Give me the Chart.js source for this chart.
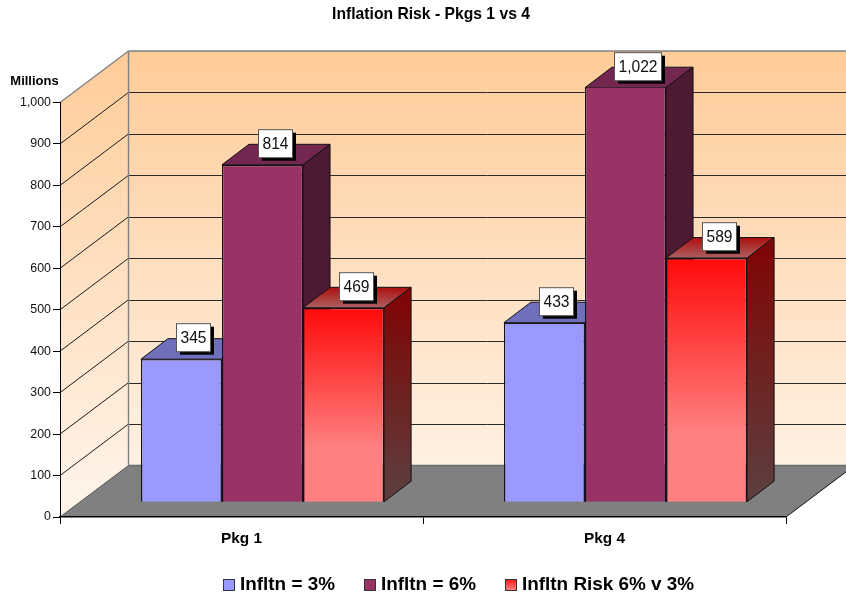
<!DOCTYPE html>
<html>
<head>
<meta charset="utf-8">
<style>
  html, body { margin: 0; padding: 0; background: #fff; overflow: hidden; }
  canvas { display: block; }
</style>
<script src="https://cdn.jsdelivr.net/npm/chart.js@4"></script>
</head>
<body>
<canvas id="chart" width="846" height="596"></canvas>
<script>
// Chart content
const categories = ['Pkg 1', 'Pkg 4'];
const inflation3 = [345, 433];
const inflation6 = [814, 1022];
const inflationRisk = [469, 589];
const seriesNames = ['Infltn = 3%', 'Infltn = 6%', 'Infltn Risk 6% v 3%'];
const chartTitle = 'Inflation Risk - Pkgs 1 vs 4';
const unitLabel = 'Millions';
const valueMax = 1000;
const valueStep = 100;

// Oblique projection used to fake the 3D box
const FONT = '"Liberation Sans", Arial, sans-serif';
const WALL = { dx: 68.5, dy: -51.5 };   // front plane to back wall
const PLANE = { dx: 21, dy: -14.8 };    // front plane to the front of the bars
const DEPTH = { dx: 27, dy: -20.5 };    // bar front to bar back

function poly(ctx, pts, fill, stroke, lw) {
  ctx.beginPath();
  pts.forEach((p, i) => i ? ctx.lineTo(p[0], p[1]) : ctx.moveTo(p[0], p[1]));
  ctx.closePath();
  if (fill) { ctx.fillStyle = fill; ctx.fill(); }
  if (stroke) { ctx.strokeStyle = stroke; ctx.lineWidth = lw || 1; ctx.stroke(); }
}

function line(ctx, x1, y1, x2, y2, color, lw) {
  ctx.beginPath();
  ctx.moveTo(x1, y1);
  ctx.lineTo(x2, y2);
  ctx.strokeStyle = color;
  ctx.lineWidth = lw;
  ctx.stroke();
}

function vGrad(ctx, y1, y2, c1, c2) {
  const g = ctx.createLinearGradient(0, y1, 0, y2);
  g.addColorStop(0, c1);
  g.addColorStop(1, c2);
  return g;
}

// Front of the red series: saturated at the top, fading to a flat pink
function redFront(ctx, y1, y2) {
  const g = ctx.createLinearGradient(0, y1, 0, y2);
  g.addColorStop(0, '#FF0A0A');
  g.addColorStop(0.72, '#FF8080');
  g.addColorStop(1, '#FF8080');
  return g;
}

// Per-series face colours: side and top faces of each bar
const faces = [
  { top: () => '#6F6FBB', side: () => '#4D4D80' },
  { top: () => '#722650', side: () => '#4D1933' },
  {
    top: (ctx, y1, y2) => vGrad(ctx, y1, y2, '#AE0F0F', '#AC6060'),
    side: (ctx, y1, y2) => vGrad(ctx, y1, y2, '#7E0808', '#5C4040')
  }
];

const box3d = {
  id: 'box3d',
  // Back wall, side wall, floor and the grid running across them
  beforeDraw(chart) {
    const { ctx, chartArea: a, scales: { y } } = chart;
    const L = a.left, R = a.right, T = a.top, B = a.bottom;
    const dx = WALL.dx, dy = WALL.dy;
    ctx.save();
    const wall = vGrad(ctx, T + dy, B + dy + 15, '#FFCC99', '#FFF2E6');
    poly(ctx, [[L, B], [L + dx, B + dy], [L + dx, T + dy], [L, T]], wall);
    ctx.fillStyle = wall;
    ctx.fillRect(L + dx, T + dy, chart.width - L - dx, B - T);
    poly(ctx, [[L, B], [L + dx, B + dy], [R + dx, B + dy], [R, B]], '#808080');

    y.ticks.forEach(t => {
      if (t.value === 0 || t.value === valueMax) return;
      const p = y.getPixelForValue(t.value);
      line(ctx, L, p, L + dx, p + dy, '#1a1a1a', 1);
      line(ctx, L + dx, Math.round(p + dy) + 0.5, chart.width, Math.round(p + dy) + 0.5, '#2a2a2a', 1);
    });
    line(ctx, L, T, L + dx, T + dy, '#808080', 1.4);
    line(ctx, L + dx, T + dy, chart.width, T + dy, '#808080', 1.4);
    line(ctx, L + dx, T + dy, L + dx, B + dy, '#808080', 1.4);
    line(ctx, L + dx, B + dy, chart.width, B + dy, '#6a6a6a', 1.6);
    line(ctx, L, B, L + dx, B + dy, '#555', 1);
    line(ctx, R, B, R + dx, B + dy, '#111', 1);
    ctx.restore();
  },
  // Tops and sides go under the fronts; everything shifts back onto the bar plane
  beforeDatasetsDraw(chart) {
    const { ctx, chartArea: a } = chart;
    ctx.save();
    ctx.translate(PLANE.dx, PLANE.dy);
    categories.forEach((_, c) => {
      chart.data.datasets.forEach((_, s) => {
        const el = chart.getDatasetMeta(s).data[c];
        const l = el.x - el.width / 2, r = el.x + el.width / 2;
        const top = Math.max(el.y, a.top), base = el.base;
        const dx = DEPTH.dx, dy = DEPTH.dy;
        poly(ctx, [[l, top], [l + dx, top + dy], [r + dx, top + dy], [r, top]],
          faces[s].top(ctx, top + dy, top), '#111', 1);
        poly(ctx, [[r, top], [r + dx, top + dy], [r + dx, base + dy], [r, base]],
          faces[s].side(ctx, top, base), '#111', 1);
      });
    });
  },
  afterDatasetsDraw(chart) {
    const { ctx, chartArea: a } = chart;
    // Value flags, still on the bar plane
    ctx.font = '15.6px ' + FONT;
    ctx.textAlign = 'center';
    ctx.textBaseline = 'middle';
    chart.data.datasets.forEach((ds, s) => {
      chart.getDatasetMeta(s).data.forEach((el, c) => {
        const top = Math.max(el.y, a.top);
        const text = ds.data[c].toLocaleString('en-US');
        const w = Math.round(ctx.measureText(text).width + 8);
        const h = 28;
        const x = Math.round(el.x + 12 - w / 2) + 0.5;
        const y = Math.round(top - 22 - h / 2) + 0.5;
        ctx.fillStyle = '#000';
        ctx.fillRect(x + 3.5, y + 3, w, h);
        ctx.fillStyle = '#fff';
        ctx.fillRect(x, y, w, h);
        ctx.strokeStyle = '#555';
        ctx.lineWidth = 1;
        ctx.strokeRect(x, y, w, h);
        ctx.fillStyle = '#111';
        ctx.fillText(text, x + w / 2, y + h / 2 + 0.5);
      });
    });
    ctx.restore();
  },
  afterLayout(chart) {
    // The heading sits right of the plot centre, over the projected box
    chart.titleBlock.left += 38;
    chart.titleBlock.right += 38;
  },
  afterDraw(chart) {
    const { ctx } = chart;
    ctx.save();
    ctx.fillStyle = '#000';
    ctx.textBaseline = 'middle';
    ctx.textAlign = 'center';
    ctx.font = 'bold 13px ' + FONT;
    ctx.fillText(unitLabel, 34.5, 81);

    // Legend row: swatch, short gap, name, wide gap
    ctx.font = 'bold 18.9px ' + FONT;
    ctx.textAlign = 'left';
    ctx.textBaseline = 'alphabetic';
    let x = 223;
    const swatches = [
      () => '#9999FF',
      () => '#993366',
      () => vGrad(ctx, 579, 590, '#FF1010', '#FF8080')
    ];
    seriesNames.forEach((name, i) => {
      ctx.fillStyle = swatches[i]();
      ctx.fillRect(x + 0.5, 579.5, 11, 11);
      ctx.strokeStyle = '#333';
      ctx.lineWidth = 1;
      ctx.strokeRect(x + 0.5, 579.5, 11, 11);
      ctx.fillStyle = '#000';
      ctx.fillText(name, x + 17, 590);
      x += 17 + ctx.measureText(name).width + 29;
    });
    ctx.restore();
  }
};

new Chart(document.getElementById('chart'), {
  type: 'bar',
  data: {
    labels: categories,
    datasets: [
      { label: seriesNames[0], data: inflation3, backgroundColor: '#9999FF' },
      { label: seriesNames[1], data: inflation6, backgroundColor: '#993366' },
      {
        label: seriesNames[2],
        data: inflationRisk,
        backgroundColor(c) {
          const y = c.chart.scales.y;
          if (!y || c.raw === undefined) return '#FF1010';
          const y1 = y.getPixelForValue(c.raw), y2 = y.getPixelForValue(0);
          // Scales have no pixel range until the first layout has run
          if (!Number.isFinite(y1) || !Number.isFinite(y2)) return '#FF1010';
          return redFront(c.chart.ctx, y1, y2);
        }
      }
    ]
  },
  options: {
    responsive: false,
    animation: false,
    events: [],
    devicePixelRatio: 1,
    layout: { padding: { top: 0, left: 0, right: 60, bottom: 0 } },
    datasets: {
      bar: {
        categoryPercentage: 0.67,
        barPercentage: 1,
        borderColor: '#14101c',
        borderWidth: 1.4
      }
    },
    plugins: {
      legend: { display: false },
      tooltip: { enabled: false },
      title: {
        display: true,
        text: chartTitle,
        color: '#000',
        font: { family: FONT, size: 15.7, weight: 'bold', lineHeight: 1.2 },
        padding: { top: 5.6, bottom: 78.06 }
      }
    },
    scales: {
      x: {
        afterFit(s) { s.height = 79; },
        border: { color: '#000', width: 1.5 },
        grid: { drawOnChartArea: false, color: '#000', tickLength: 7 },
        ticks: {
          color: '#000',
          padding: 6,
          font: { family: FONT, size: 15.4, weight: 'bold' }
        }
      },
      y: {
        min: 0,
        max: valueMax,
        afterFit(s) { s.width = 60; },
        border: { color: '#000', width: 1 },
        grid: { drawOnChartArea: false, color: '#000', tickLength: 7 },
        ticks: {
          stepSize: valueStep,
          color: '#111',
          padding: 2,
          font: { family: FONT, size: 12.4 }
        }
      }
    }
  },
  plugins: [box3d]
});
</script>
</body>
</html>
